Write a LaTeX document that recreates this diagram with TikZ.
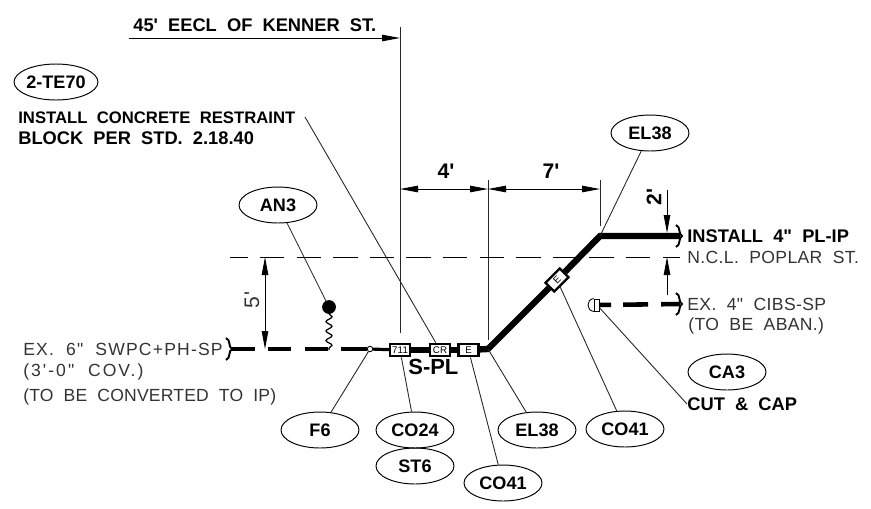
\documentclass[tikz,border=0pt]{standalone}
\usepackage{fontspec}
\usetikzlibrary{arrows.meta,shapes.geometric,decorations.pathmorphing}
\newfontfamily\cadthin[LetterSpace=2,WordSpace=2]{Liberation Sans}
\newfontfamily\cadbold[WordSpace=2]{Liberation Sans}
\tikzset{
  tag/.style={draw,ellipse,minimum width=1.56cm,minimum height=.72cm,inner sep=0pt,
    line width=.55pt,font=\cadbold\bfseries\fontsize{10.3}{12}\selectfont},
  note/.style={anchor=west,inner sep=0pt,text=black!80,font=\cadthin\fontsize{10}{12}\selectfont},
  boldnote/.style={anchor=west,inner sep=0pt,font=\cadbold\bfseries\fontsize{10.4}{12}\selectfont},
  fitting/.style={draw,fill=white,line width=1.3pt,minimum width=.4cm,minimum height=.25cm,
    inner sep=0pt,font=\cadthin\fontsize{5.5}{6}\selectfont},
  leader/.style={line width=.5pt,black!85},
  dim/.style={line width=.5pt,>={Triangle[length=.36cm,width=.13cm]}},
  pipebreak/.pic={
    \draw[line width=1.1pt] (-3,-11) .. controls (2,-9) and (-1,-2) .. (3,0)
      .. controls (-1,2) and (2,9) .. (-3,11);
  }
}
\begin{document}
\begin{tikzpicture}[x=.02cm,y=-.02cm]
  \useasboundingbox (0,0) rectangle (871,508);

  \coordinate (stationA) at (400,27);
  \coordinate (stationAend) at (400,333);
  \coordinate (stationB) at (488,180);
  \coordinate (stationBend) at (488,340);
  \coordinate (stationC) at (600,180);
  \coordinate (stationCend) at (600,226);
  \coordinate (dimA) at (400,189);
  \coordinate (dimB) at (488,189);
  \coordinate (dimC) at (600,189);
  \coordinate (kenner) at (129,38);
  \coordinate (kennerEnd) at (400,38);
  \coordinate (nclStart) at (230,257);
  \coordinate (nclEnd) at (680,257);
  \coordinate (elbowLow) at (488,349);
  \coordinate (elbowHigh) at (600,236);
  \coordinate (breakOld) at (232,349);
  \coordinate (breakNew) at (680,236);
  \coordinate (breakAban) at (680,304);
  \coordinate (restraint) at (305,117);
  \coordinate (anTap) at (329,350);

  \draw[leader] (stationA) -- (stationAend);
  \draw[leader] (stationB) -- (stationBend);
  \draw[leader] (stationC) -- (stationCend);
  \draw[dim,->] (kenner) -- (kennerEnd);
  \draw[dim,<->] (dimA) -- (dimB);
  \draw[dim,<->] (dimB) -- (dimC);
  \draw[line width=.5pt,dash pattern=on .486cm off .246cm,dash phase=.13cm] (nclStart) -- (nclEnd);

  \coordinate (fiveTop) at (265,257);
  \coordinate (fiveEnd) at (265,349);
  \coordinate (twoTop) at (667,190);
  \coordinate (twoEnd) at (667,233);
  \coordinate (twoLow) at (667,295);
  \coordinate (twoUp) at (667,257);
  \draw[dim,<->] (fiveTop) -- (fiveEnd);
  \draw[dim,->] (twoTop) -- (twoEnd);
  \draw[dim,->] (twoLow) -- (twoUp);

  \node[fitting] (box711) at (400,350) {711};
  \node[fitting] (boxCR) at (440,350) {CR};
  \node[fitting] (boxE) at (468.5,350) {E};
  \node[fitting,rotate=45] (boxDiag) at (557,280) {E};
  \node[draw,circle,fill=white,line width=.5pt,minimum size=.11cm,inner sep=0pt] (valve) at (370,349) {};
  \node[draw,line width=.5pt,minimum width=.11cm,minimum height=.24cm,inner sep=0pt] (cap) at (597,305) {};
  \draw[line width=.5pt] (cap.north west) .. controls (586,299) and (586,311) .. (cap.south west);

  \draw[line width=2.6pt,dash pattern=on .46cm off .27cm on .46cm off .27cm on .46cm off .27cm on .6cm off .1cm] (breakOld) -- (valve);
  \draw[line width=1.8pt] (valve) -- (box711);
  \draw[line width=3pt] (box711) -- (boxCR);
  \draw[line width=3pt] (boxCR) -- (boxE);
  \draw[line width=3.6pt] (boxE) -- (elbowLow) -- (boxDiag);
  \draw[line width=3.6pt] (boxDiag) -- (elbowHigh) -- (breakNew);
  \draw[line width=2.6pt,dash pattern=on .22cm off .24cm on .5cm off .26cm on .4cm] (cap) -- (breakAban);
  \pic at (229,349) {pipebreak};
  \pic at (679,236) {pipebreak};
  \pic at (679,304) {pipebreak};

  \node[draw,circle,fill=black,minimum size=.26cm,inner sep=0pt] (anDot) at (329,307) {};
  \draw[line width=.7pt,decorate,decoration={snake,amplitude=1.7pt,segment length=5.4pt}] (anDot) -- (anTap);

  \foreach \Name/\X/\Y/\Label in {tagTe/56/82/2-TE70, tagAn/278/205/AN3, tagElTop/650/133/EL38,
    tagCa/727/372/CA3, tagFs/320/430/F6, tagCo/415/430/CO24, tagSt/415/466/ST6,
    tagElLow/537/430/EL38, tagCoLow/503/483/CO41, tagCoDiag/625/429/CO41}{
    \node[tag] (\Name) at (\X,\Y) {\Label};
  }

  \draw[leader] (tagAn) -- (anDot);
  \draw[leader] (tagElTop) -- (elbowHigh);
  \draw[leader] (tagFs) -- (valve);
  \draw[leader] (tagCo) -- (box711);
  \draw[leader] (tagElLow) -- (elbowLow);
  \draw[leader] (tagCoLow) -- (boxE);
  \draw[leader] (tagCoDiag) -- (boxDiag);
  \draw[leader] (restraint) -- (boxCR);

  \node[boldnote] (kennerText) at (133,25) {45' EECL OF KENNER ST.};
  \node[boldnote,font=\cadbold\bfseries\fontsize{9.5}{12}\selectfont] (restraintA) at (18,118) {INSTALL CONCRETE RESTRAINT};
  \node[boldnote] (restraintB) at (18,138) {BLOCK PER STD. 2.18.40};
  \node[boldnote] (installText) at (687,236) {INSTALL 4" PL-IP};
  \node[boldnote] (cutText) at (687,404) {CUT \& CAP};
  \node[boldnote,font=\cadbold\bfseries\fontsize{12.5}{14}\selectfont] (splText) at (408,367) {S-PL};
  \node[boldnote,anchor=center,font=\cadbold\bfseries\fontsize{12}{14}\selectfont] (fourText) at (446,171) {4'};
  \node[boldnote,anchor=center,font=\cadbold\bfseries\fontsize{12}{14}\selectfont] (sevenText) at (551,171) {7'};
  \node[boldnote,anchor=center,rotate=90,font=\cadbold\bfseries\fontsize{12}{14}\selectfont] (twoText) at (654,197) {2'};
  \node[note,anchor=center,rotate=90,font=\cadthin\fontsize{12}{14}\selectfont] (fiveText) at (252,300) {5'};
  \node[note] (poplarText) at (687,257) {N.C.L. POPLAR ST.};
  \node[note] (cibsA) at (687,304) {EX. 4" CIBS-SP};
  \node[note] (cibsB) at (688,326) {(TO BE ABAN.)};
  \node[note,font=\cadthin\addfontfeature{LetterSpace=6.7}\fontsize{10}{12}\selectfont] (swpcA) at (23,349) {EX. 6" SWPC+PH-SP};
  \node[note,font=\cadthin\addfontfeature{LetterSpace=11.5}\fontsize{10}{12}\selectfont] (swpcB) at (23,372) {(3'-0" COV.)};
  \node[note,font=\cadthin\addfontfeature{LetterSpace=1}\fontsize{10}{12}\selectfont] (swpcC) at (23,397) {(TO BE CONVERTED TO IP)};

  \draw[leader] (cutText.west) -- (cap);
\end{tikzpicture}
\end{document}
